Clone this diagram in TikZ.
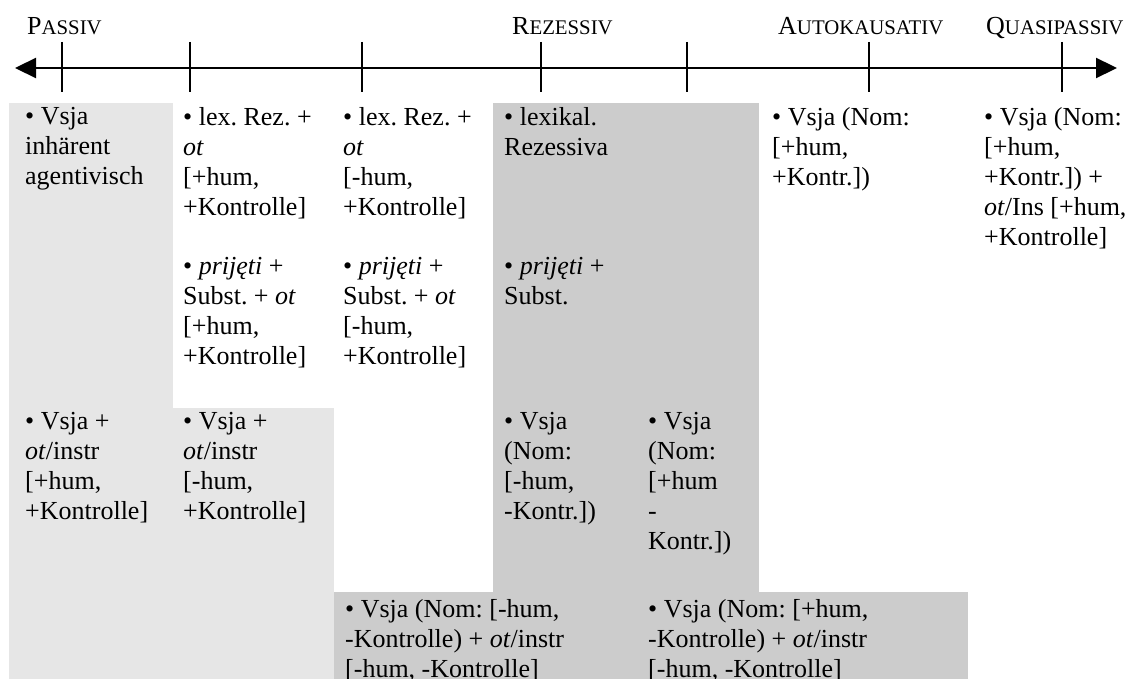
\documentclass[tikz,border=0pt]{standalone}
\usepackage{fontspec}
\setmainfont{Liberation Serif}
\usetikzlibrary{arrows.meta}
\definecolor{lightcell}{HTML}{E6E6E6}
\definecolor{darkcell}{HTML}{CCCCCC}
\newcommand\cellfont{\fontsize{26pt}{30pt}\selectfont\frenchspacing}
\newcommand\smallcapsize{\fontsize{20.8pt}{30pt}\selectfont}
\newcommand\mysc[2]{#1{\smallcapsize #2}}
\begin{document}
\frenchspacing
\begin{tikzpicture}[x=1pt,y=-1pt,
  cell/.style={anchor=north west, inner sep=0pt, align=left, font=\cellfont,
    execute at begin node=\rule{0pt}{21pt}},
  lab/.style={anchor=base west, inner sep=0pt, font=\cellfont},
  tickline/.style={line width=1.3pt},
  axisline/.style={line width=2.2pt,
    {Triangle[length=21pt,width=20pt]}-{Triangle[length=21pt,width=20pt]}}]
\useasboundingbox (0,0) rectangle (1129,679);
\clip (0,0) rectangle (1129,679);
\fill[white] (0,0) rectangle (1129,679);
% shaded cells
\fill[lightcell] (9,103) rectangle (172.7,679);
\fill[lightcell] (172.7,408) rectangle (333.5,679);
\fill[darkcell] (493,103) rectangle (759,592);
\fill[darkcell] (333.5,592) rectangle (968,679);
% axis
\coordinate (axL) at (15,68);
\coordinate (axR) at (1117,68);
\draw[axisline] (axL) -- (axR);
\foreach \i/\x in {1/62,2/190,3/362,4/541,5/687,6/869,7/1062}{
  \coordinate (tt\i) at (\x,42);
  \coordinate (tb\i) at (\x,92);
  \draw[tickline] (tt\i) -- (tb\i);
}
% labels
\node[lab] (lpassiv) at (27,35) {\mysc{P}{ASSIV}};
\node[lab] (lrez) at (512,35) {\mysc{R}{EZESSIV}};
\node[lab] (lauto) at (778,35) {\mysc{A}{UTOKAUSATIV}};
\node[lab] (lquasi) at (986,35) {\mysc{Q}{UASIPASSIV}};
% row 1
\node[cell] (c11) at (25,107) {• Vsja\\inhärent\\agentivisch};
\node[cell] (c12) at (183,107) {• lex. Rez. +\\\textit{ot}\\{[}+hum,\\+Kontrolle]};
\node[cell] (c13) at (343,107) {• lex. Rez. +\\\textit{ot}\\{[}-hum,\\+Kontrolle]};
\node[cell] (c14) at (504,107) {• lexikal.\\Rezessiva};
\node[cell] (c16) at (772,107) {• Vsja (Nom:\\{[}+hum,\\+Kontr.])};
\node[cell] (c17) at (984,107) {• Vsja (Nom:\\{[}+hum,\\+Kontr.]) +\\\textit{ot}/Ins [+hum,\\+Kontrolle]};
% row 2
\node[cell] (c22) at (183,257) {• \textit{prijęti} +\\Subst. + \textit{ot}\\{[}+hum,\\+Kontrolle]};
\node[cell] (c23) at (343,257) {• \textit{prijęti} +\\Subst. + \textit{ot}\\{[}-hum,\\+Kontrolle]};
\node[cell] (c24) at (504,257) {• \textit{prijęti} +\\Subst.};
% row 3
\node[cell] (c31) at (25,412) {• Vsja +\\\textit{ot}/instr\\{[}+hum,\\+Kontrolle]};
\node[cell] (c32) at (183,412) {• Vsja +\\\textit{ot}/instr\\{[}-hum,\\+Kontrolle]};
\node[cell] (c34) at (504,412) {• Vsja\\(Nom:\\{[}-hum,\\-Kontr.])};
\node[cell] (c35) at (648,412) {• Vsja\\(Nom:\\{[}+hum\\-\\Kontr.])};
% row 4
\node[cell] (c43) at (345,599) {• Vsja (Nom: [-hum,\\-Kontrolle) + \textit{ot}/instr\\{[}-hum, -Kontrolle]};
\node[cell] (c45) at (648,599) {• Vsja (Nom: [+hum,\\-Kontrolle) + \textit{ot}/instr\\{[}-hum, -Kontrolle]};
\end{tikzpicture}
\end{document}
